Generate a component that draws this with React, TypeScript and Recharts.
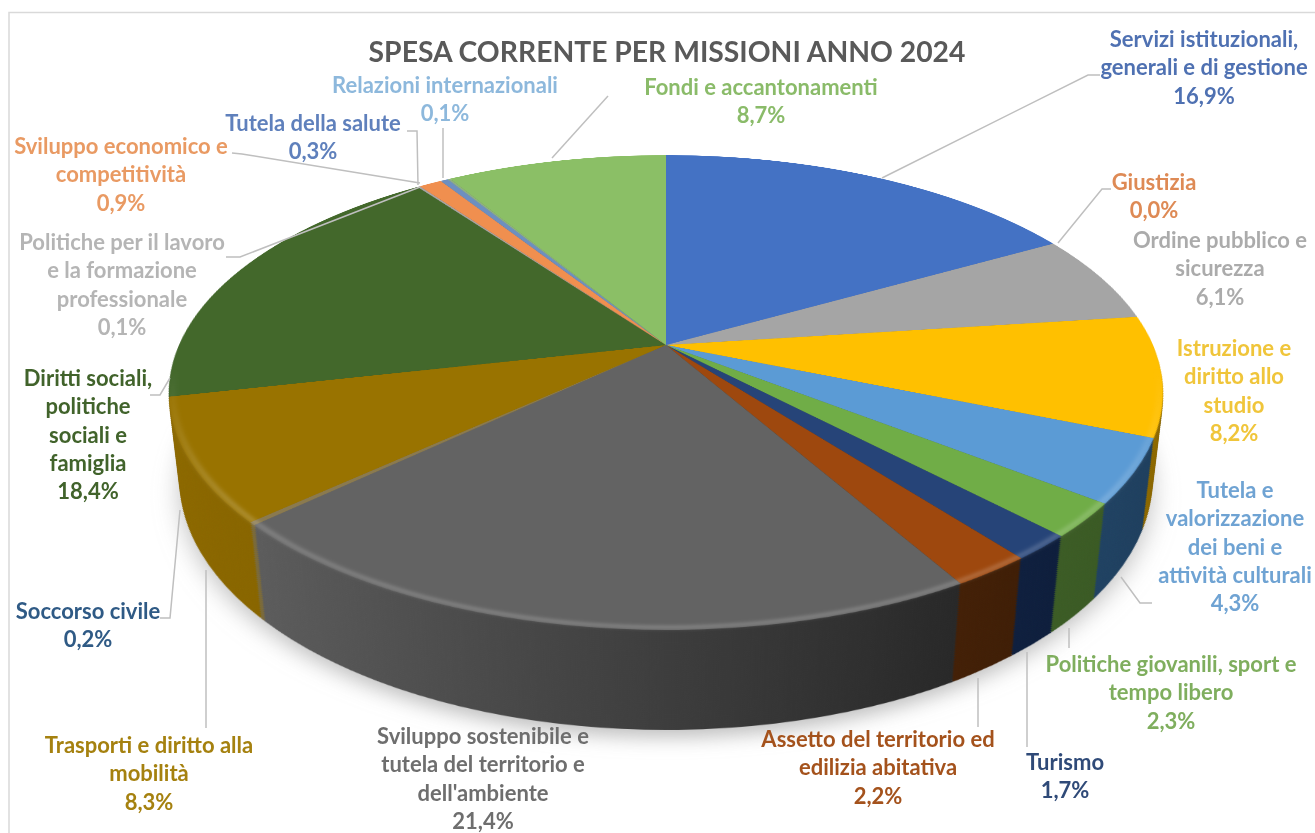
import React from 'react';
import { PieChart, Pie, Cell } from 'recharts';

// ---- data, clockwise from 12 o'clock
const missions = [
  'Servizi istituzionali, generali e di gestione',
  'Giustizia',
  'Ordine pubblico e sicurezza',
  'Istruzione e diritto allo studio',
  'Tutela e valorizzazione dei beni e attività culturali',
  'Politiche giovanili, sport e tempo libero',
  'Turismo',
  'Assetto del territorio ed edilizia abitativa',
  'Sviluppo sostenibile e tutela del territorio e dell\'ambiente',
  'Soccorso civile',
  'Trasporti e diritto alla mobilità',
  'Diritti sociali, politiche sociali e famiglia',
  'Politiche per il lavoro e la formazione professionale',
  'Sviluppo economico e competitività',
  'Tutela della salute',
  'Relazioni internazionali',
  'Fondi e accantonamenti',
];
const shares = [16.9, 0.0, 6.1, 8.2, 4.3, 2.3, 1.7, 2.2, 21.4, 0.2, 8.3, 18.4, 0.1, 0.9, 0.3, 0.1, 8.7];

const labelLines = [
  ['Servizi istituzionali,', 'generali e di gestione'],
  ['Giustizia'],
  ['Ordine pubblico e', 'sicurezza'],
  ['Istruzione e', 'diritto allo', 'studio'],
  ['Tutela e', 'valorizzazione', 'dei beni e', 'attività culturali'],
  ['Politiche giovanili, sport e', 'tempo libero'],
  ['Turismo'],
  ['Assetto del territorio ed', 'edilizia abitativa'],
  ['Sviluppo sostenibile e', 'tutela del territorio e', "dell'ambiente"],
  ['Soccorso civile'],
  ['Trasporti e diritto alla', 'mobilità'],
  ['Diritti sociali,', 'politiche', 'sociali e', 'famiglia'],
  ['Politiche per il lavoro', 'e la formazione', 'professionale'],
  ['Sviluppo economico e', 'competitività'],
  ['Tutela della salute'],
  ['Relazioni internazionali'],
  ['Fondi e accantonamenti'],
];

// ---- styling
const topColors = ['#4472C4', '#ED7D31', '#A5A5A5', '#FFC000', '#5B9BD5', '#70AD47', '#264478', '#9E480E', '#636363', '#8A7A50', '#997300', '#43682B', '#A5A5A5', '#F08F4F', '#6D8FC0', '#8FAE85', '#8BBF66'];
const sideFrom = ['#2F5597', '#A0521D', '#757575', '#A67C00', '#2A5078', '#46682C', '#14294D', '#55290A', '#5C5C5C', '#7A6A3A', '#8C6800', '#2F4C1E', '#757575', '#A0521D', '#3D5A8A', '#4F7FA8', '#5F8A45'];
const sideTo = ['#2F5597', '#A0521D', '#757575', '#8A6600', '#1E3F5E', '#3A5A24', '#0E1E3C', '#3F1E06', '#282828', '#7A6A3A', '#7C5C00', '#2F4C1E', '#757575', '#A0521D', '#3D5A8A', '#4F7FA8', '#5F8A45'];
const textColors = ['#4F71B2', '#DE8A55', '#ABABAB', '#F0C53A', '#6FA3D3', '#7FAE5E', '#2F4A78', '#A4521C', '#6E6E6E', '#2F5A85', '#A5810F', '#41632B', '#B5B5B5', '#E99A63', '#5F80BC', '#8DB8DC', '#8ABB69'];

const labelCx = [1204, 1154, 1220, 1234, 1235, 1171, 1065, 878, 483, 88, 149, 88, 122, 121, 313, 445, 761];
const labelTop = [40, 183, 241, 349, 491, 665, 763, 740, 737, 612, 746, 379, 243, 147, 124, 86, 88];
const leaders = [
  '1100,75 1088,75 882,178',
  '1111,189 1102,189 1058,243',
  '1152,603 1140,603 1121,577',
  '1069,628 1069,648',
  '1027,652 1027,747',
  '978,678 978,727',
  '206,570 206,728',
  '160,618 170,618 180,510',
  '150,395 160,395 170,378',
  '226,257 240,257 420,187',
  '232,153 242,154 420,183',
  '407,131 417,131 418,185',
  '443,128 443,178',
  '608,96 552,158',
];

const pieData = shares.map((value, i) => ({ name: missions[i], value }));
const formatShare = (v: number) => v.toFixed(1).replace('.', ',') + '%';

const SIZE = 1000;
const RADIUS = 487;
const CX = 666;
const CY = 345;
const TILT = 62.1;
const DEPTH = 100;
const STEP = 2;

const layerStyle = (z: number, extra?: React.CSSProperties): React.CSSProperties => ({
  position: 'absolute',
  left: CX - SIZE / 2,
  top: CY - SIZE / 2,
  width: SIZE,
  height: SIZE,
  transform: `rotateX(${TILT}deg) translateZ(${z}px)`,
  ...extra,
});

const DiskLayer = ({ z, fills }: { z: number; fills: string[] }) => (
  <div style={layerStyle(z)}>
    <PieChart width={SIZE} height={SIZE} margin={{ top: 0, right: 0, bottom: 0, left: 0 }}>
      <Pie
        data={pieData}
        dataKey="value"
        cx="50%"
        cy="50%"
        outerRadius={RADIUS}
        startAngle={90}
        endAngle={-270}
        stroke="none"
        isAnimationActive={false}
      >
        {pieData.map((d, i) => (
          <Cell key={d.name} fill={fills[i]} stroke="none" />
        ))}
      </Pie>
    </PieChart>
  </div>
);

const Shadow = () => (
  <div style={layerStyle(-DEPTH - 8, { filter: 'blur(12px)', opacity: 0.38 })}>
    <PieChart width={SIZE} height={SIZE} margin={{ top: 0, right: 0, bottom: 0, left: 0 }}>
      <Pie data={[{ name: 'ombra', value: 100 }]} dataKey="value" cx="50%" cy="50%" outerRadius={RADIUS} fill="#555" stroke="none" isAnimationActive={false} />
    </PieChart>
  </div>
);

// soft highlight on the rounded front edge of the disk
const Rim = () => (
  <div style={layerStyle(0, { filter: 'blur(2px)' })}>
    <PieChart width={SIZE} height={SIZE} margin={{ top: 0, right: 0, bottom: 0, left: 0 }}>
      <Pie
        data={[{ name: 'bordo', value: 100 }]}
        dataKey="value"
        cx="50%"
        cy="50%"
        innerRadius={RADIUS - 6}
        outerRadius={RADIUS - 1}
        fill="url(#rimFade)"
        stroke="none"
        isAnimationActive={false}
      />
    </PieChart>
  </div>
);

const depths: number[] = [];
for (let d = DEPTH; d > 0; d -= STEP) depths.push(d);

export default function App() {
  const sideFills = pieData.map((_, i) => `url(#side${i})`);
  return (
    <div style={{ position: 'absolute', left: 0, top: 0, width: 1315, height: 833, background: '#fff', overflow: 'hidden' }}>
      <svg width={1} height={1} style={{ position: 'absolute' }}>
        <defs>
          {pieData.map((_, i) => (
            <linearGradient key={i} id={`side${i}`} x1="0" y1="0" x2="1" y2="0">
              <stop offset="0" stopColor={sideFrom[i]} />
              <stop offset="1" stopColor={sideTo[i]} />
            </linearGradient>
          ))}
          <linearGradient id="rimFade" x1="0" y1="0" x2="0" y2="1">
            <stop offset="0.55" stopColor="#fff" stopOpacity={0} />
            <stop offset="0.8" stopColor="#fff" stopOpacity={0.2} />
          </linearGradient>
        </defs>
      </svg>

      <svg width={1315} height={833} style={{ position: 'absolute', left: 0, top: 0 }}>
        <rect x={9} y={12.5} width={1400} height={1000} fill="none" stroke="#d9d9d9" strokeWidth={1.5} />
      </svg>

      {/* tilted stack of pies, back to front */}
      <div
        style={{
          position: 'absolute',
          left: 0,
          top: 0,
          width: 1315,
          height: 833,
          perspective: '2152px',
          perspectiveOrigin: `${CX}px ${CY}px`,
        }}
      >
        <Shadow />
        {depths.map((d) => (
          <DiskLayer key={d} z={-d} fills={sideFills} />
        ))}
        <DiskLayer z={0} fills={topColors} />
        <Rim />
      </div>

      <svg
        width={1315}
        height={833}
        style={{ position: 'absolute', left: 0, top: 0, filter: 'blur(0.6px)' }}
        fontFamily="Lato, 'Open Sans', sans-serif"
        fontWeight={700}
        fontSize={22}
        textAnchor="middle"
      >
        {leaders.map((pts) => (
          <polyline key={pts} points={pts} fill="none" stroke="#bfbfbf" strokeWidth={1.5} />
        ))}
        <text x={667} y={62} fontSize={28.3} fill="#595959">
          SPESA CORRENTE PER MISSIONI ANNO 2024
        </text>
        {pieData.map((d, i) => (
          <text key={d.name} fill={textColors[i]}>
            {[...labelLines[i], formatShare(d.value)].map((line, j) => (
              <tspan key={j} x={labelCx[i]} y={labelTop[i] + 7 + j * 28.3}>
                {line}
              </tspan>
            ))}
          </text>
        ))}
      </svg>
    </div>
  );
}
